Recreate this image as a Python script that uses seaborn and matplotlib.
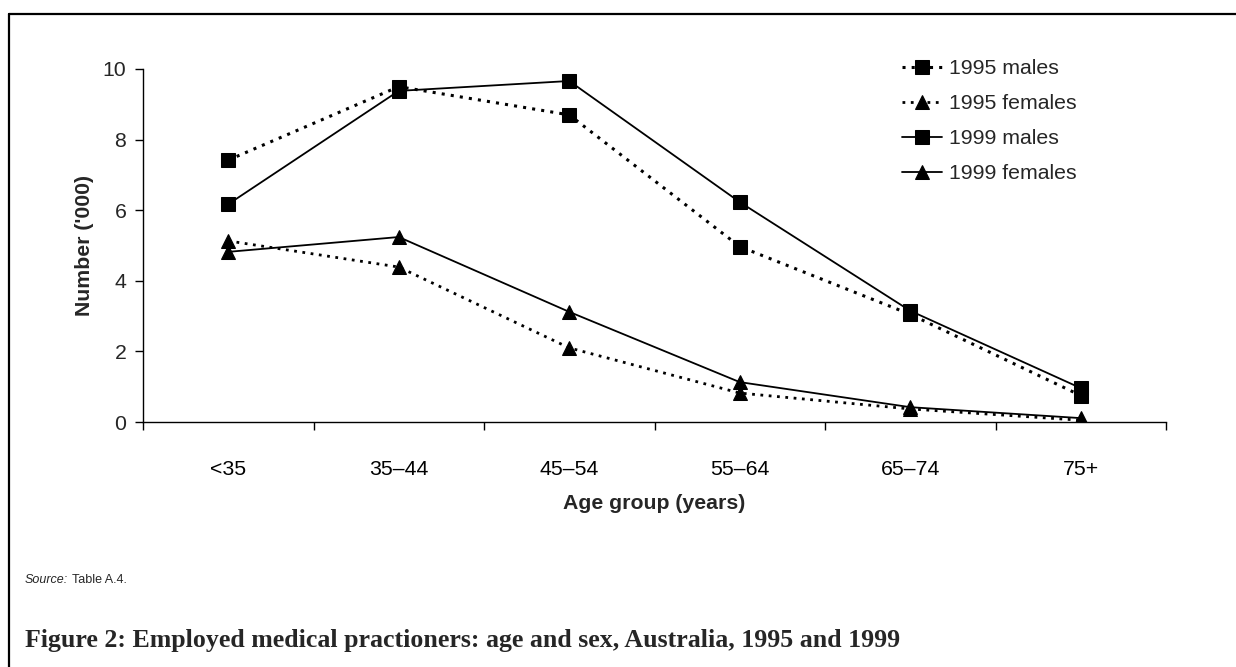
import matplotlib
matplotlib.use("Agg")
import matplotlib.pyplot as plt
import seaborn as sns
import pandas as pd
from matplotlib.lines import Line2D
from matplotlib.ticker import FixedLocator

categories = ["<35", "35–44", "45–54", "55–64", "65–74", "75+"]
males_1995 = [7.42, 9.50, 8.70, 4.97, 3.05, 0.75]
females_1995 = [5.13, 4.39, 2.10, 0.82, 0.37, 0.05]
males_1999 = [6.17, 9.38, 9.66, 6.23, 3.15, 0.96]
females_1999 = [4.82, 5.24, 3.12, 1.13, 0.42, 0.11]
series_names = ["1995 males", "1995 females", "1999 males", "1999 females"]
yticks = [0, 2, 4, 6, 8, 10]

sns.set_theme(style="white")
plt.rcParams["font.family"] = ["Liberation Sans", "DejaVu Sans"]

FS = 15.3
W, H = 1236, 667
fig = plt.figure(figsize=(W / 100, H / 100), dpi=100)
ax = fig.add_axes([143 / W, 1 - 422 / H, (1166 - 143) / W, (422 - 69) / H])

series = [males_1995, females_1995, males_1999, females_1999]
styles = [
    dict(marker="s", linestyle=(0, (1.0, 2.0)), linewidth=2.2, markersize=9.5),
    dict(marker="^", linestyle=(0, (1.0, 2.0)), linewidth=2.0, markersize=10),
    dict(marker="s", linestyle="-", linewidth=1.3, markersize=9.5),
    dict(marker="^", linestyle="-", linewidth=1.3, markersize=10),
]
for name, vals, st in zip(series_names, series, styles):
    df = pd.DataFrame({"Age": categories, "Value": vals})
    sns.lineplot(data=df, x="Age", y="Value", ax=ax, color="black",
                 markeredgecolor="black", markerfacecolor="black",
                 label=name, sort=False, **st)

ax.set_xlim(-0.5, 5.5)
ax.set_ylim(0, 10)
ax.set_yticks(yticks)
ax.set_yticklabels([str(v) for v in yticks])
ax.set_xticks(range(len(categories)))
ax.set_xticklabels(categories)
ax.xaxis.set_minor_locator(FixedLocator([i - 0.5 for i in range(len(categories) + 1)]))
ax.tick_params(axis="x", which="major", length=0, pad=27.5, labelsize=FS, colors="black")
ax.tick_params(axis="x", which="minor", length=6, width=1, direction="out", color="black", bottom=True)
ax.tick_params(axis="y", which="major", length=6, width=1, direction="out", color="black",
               left=True, labelsize=FS, pad=6)
for s in ["top", "right"]:
    ax.spines[s].set_visible(False)
for s in ["left", "bottom"]:
    ax.spines[s].set_color("black")
    ax.spines[s].set_linewidth(1)
ax.grid(False)

ax.set_xlabel("Age group (years)", fontsize=FS, fontweight="bold", labelpad=10.5)
ax.set_ylabel("Number ('000)", fontsize=FS, fontweight="bold", labelpad=6)

ax.get_legend().remove()
handles, labels = ax.get_legend_handles_labels()
fig.legend(handles, labels, loc="upper left",
           bbox_to_anchor=(902 / W, 1 - 59 / H), frameon=False,
           fontsize=FS, handlelength=1.9, handletextpad=0.33,
           labelspacing=0.76, borderpad=0, borderaxespad=0)

src = fig.text(25 / W, 1 - 580 / H, "Source:", fontsize=9.0, style="italic", va="center")
fig.canvas.draw()
bb = src.get_window_extent()
fig.text((bb.x1 + 4) / W, 1 - 580 / H, "Table A.4.", fontsize=9.0, va="center")
fig.text(25 / W, 1 - 641 / H,
         "Figure 2: Employed medical practioners: age and sex, Australia, 1995 and 1999",
         fontsize=18.6, fontweight="bold", family=["Liberation Serif", "DejaVu Serif"],
         va="center")

# Outer frame (top and left edges)
fig.add_artist(Line2D([9 / W, 1.0], [1 - 14 / H, 1 - 14 / H], transform=fig.transFigure,
                      color="black", linewidth=1.6))
fig.add_artist(Line2D([9 / W, 9 / W], [0.0, 1 - 14 / H], transform=fig.transFigure,
                      color="black", linewidth=1.6))

fig.savefig("out.png", dpi=100, facecolor="white")
